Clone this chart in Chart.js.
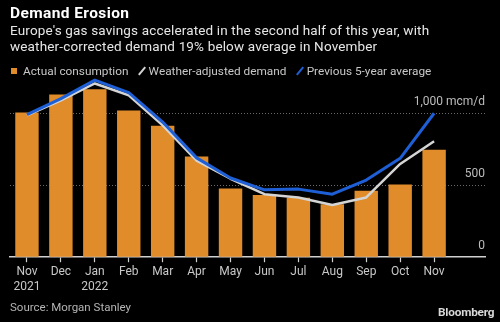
<!DOCTYPE html>
<html>
<head>
<meta charset="utf-8">
<script src="https://cdn.jsdelivr.net/npm/chart.js@4.4.0/dist/chart.umd.min.js"></script>
<style>
  html, body { margin:0; padding:0; background:#000; }
  #wrap { position:relative; width:500px; height:322px; background:#000; overflow:hidden; font-family: Roboto, 'Open Sans', sans-serif; }
  .abs { position:absolute; white-space:nowrap; }
  #title { left:10px; top:4px; color:#fff; font-weight:700; font-size:15.5px; letter-spacing:0.4px; line-height:18px; }
  #sub { left:10px; top:22px; color:#e6e6e6; font-size:13.5px; letter-spacing:0.15px; line-height:16px; }
  #legend { left:11px; top:63px; color:#c8c8c8; font-size:11.8px; line-height:16px; }
  #legend span.it { margin-right:9px; }
  .sq { display:inline-block; width:6px; height:6px; background:#E08C2A; margin-right:6px; vertical-align:1px; }
  .sl { display:inline-block; width:2.2px; height:10px; margin:0 5px 0 4px; transform:rotate(40deg); vertical-align:-1px; }
  #src { left:10px; top:300px; color:#b4b4b4; font-size:11.5px; line-height:14px; }
  #bbg { left:438px; top:304px; color:#d8d8d8; font-size:11.8px; font-weight:700; line-height:16px; letter-spacing:-0.2px; }
  #box { position:absolute; left:0; top:0; width:500px; height:322px; }
</style>
</head>
<body>
<div id="wrap">
  <div id="box"><canvas id="chart"></canvas></div>
  <div class="abs" id="title">Demand Erosion</div>
  <div class="abs" id="sub">Europe's gas savings accelerated in the second half of this year, with<br>weather-corrected demand 19% below average in November</div>
  <div class="abs" id="legend"><span class="it"><span class="sq"></span>Actual consumption</span><span class="it"><span class="sl" style="background:#d4d4d4"></span>Weather-adjusted demand</span><span class="it"><span class="sl" style="background:#1E5FD6"></span>Previous 5-year average</span></div>
  <div class="abs" id="src">Source: Morgan Stanley</div>
  <div class="abs" id="bbg">Bloomberg</div>
</div>
<script>
// monthly gas demand, mcm/d, Nov 2021 - Nov 2022
const months = [['Nov','2021'],'Dec',['Jan','2022'],'Feb','Mar','Apr','May','Jun','Jul','Aug','Sep','Oct','Nov'];
const actual   = [1005, 1130, 1167, 1020, 913, 699, 477, 433, 413, 368, 461, 505, 746];
const weather  = [985, 1090, 1207, 1125, 916, 671, 545, 438, 415, 363, 415, 648, 805];
const avg5yr   = [990, 1102, 1230, 1144, 939, 690, 550, 468, 473, 438, 536, 687, 1000];
const yTicks   = [0, 500, 1000];
const yLabels  = ['0', '500', '1,000 mcm/d'];

// one empty slot on the right so the grid runs past the last bar
const labels = months.concat(['']);

const font = { family: "Roboto, 'Open Sans', sans-serif", size: 12 };

new Chart(document.getElementById('chart'), {
  type: 'bar',
  data: {
    labels: labels,
    datasets: [
      { type: 'line', label: 'Previous 5-year average', data: avg5yr, borderColor: '#1E5FD6', borderWidth: 3,
        pointRadius: 0, tension: 0, order: 1, borderJoinStyle: 'round' },
      { type: 'line', label: 'Weather-adjusted demand', data: weather, borderColor: '#d4d4d4', borderWidth: 2.5,
        pointRadius: 0, tension: 0, order: 2, borderJoinStyle: 'round' },
      { label: 'Actual consumption', data: actual, backgroundColor: '#E08C2A',
        barPercentage: 0.69, categoryPercentage: 1, order: 3 }
    ]
  },
  options: {
    responsive: true, maintainAspectRatio: false, animation: false,
    layout: { padding: { left: 10, right: 15, top: 78, bottom: 25 } },
    plugins: { legend: { display: false }, tooltip: { enabled: false } },
    scales: {
      x: {
        offset: true,
        grid: { drawOnChartArea: false, offset: false, tickLength: 5, tickWidth: 1.2,
                tickColor: c => c.index < months.length ? '#d0d0d0' : 'transparent' },
        border: { color: '#d0d0d0', width: 1.5 },
        ticks: { color: '#c8c8c8', font: font, padding: 3, maxRotation: 0, autoSkip: false }
      },
      y: {
        position: 'right', min: 0, max: 1245,
        afterBuildTicks: s => { s.ticks = yTicks.map(v => ({ value: v })); },
        grid: { drawTicks: false, lineWidth: 1,
                color: c => c.tick && c.tick.value === 0 ? 'transparent' : '#6a6a6a' },
        border: { display: false, dash: [1, 2] },
        ticks: { mirror: true, padding: 0, labelOffset: -11, color: '#bdbdbd', font: font,
                 callback: (v, i) => yLabels[yTicks.indexOf(v)] }
      }
    }
  }
});
</script>
</body>
</html>
